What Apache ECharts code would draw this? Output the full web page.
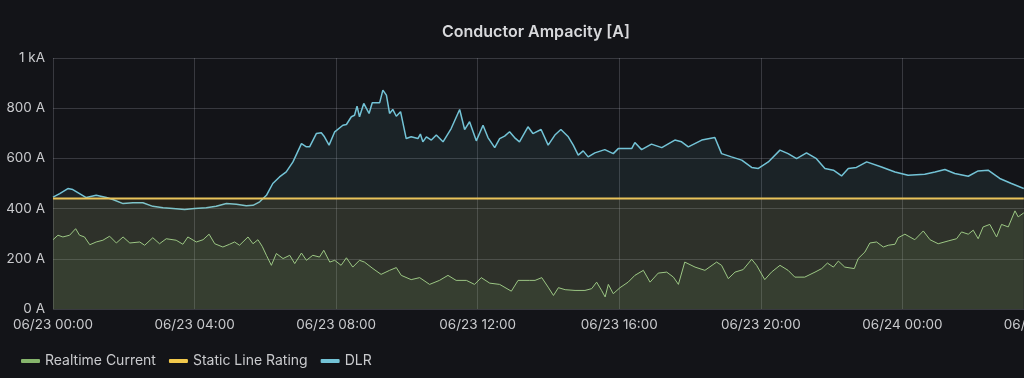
<!DOCTYPE html>
<html>
<head>
    <meta charset="UTF-8">
    <title>Conductor Ampacity [A]</title>
    <script src="https://cdn.jsdelivr.net/npm/echarts@6/dist/echarts.min.js"></script>
    <style>
        html, body { margin: 0; padding: 0; background: #131418; }
        #main { width: 1024px; height: 378px; }
    </style>
</head>
<body>
    <div id="main"></div>
    <script type="text/javascript">
        // x values are hours after 06/23 00:00
        var xTickLabels = ['06/23 00:00', '06/23 04:00', '06/23 08:00', '06/23 12:00', '06/23 16:00', '06/23 20:00', '06/24 00:00', '06/24 04:00'];
        var yTickLabels = ['0 A', '200 A', '400 A', '600 A', '800 A', '1 kA'];
        var seriesNames = ['Realtime Current', 'Static Line Rating', 'DLR'];

        var currentTimes = [0, 0.14, 0.28, 0.47, 0.64, 0.75, 0.89, 1.04, 1.22, 1.41, 1.60, 1.79, 1.98, 2.17, 2.45, 2.59, 2.82, 3.01, 3.20, 3.48, 3.67, 3.81, 4.05, 4.24, 4.41, 4.57, 4.80, 4.99, 5.13, 5.27, 5.51, 5.65, 5.79, 5.91, 6.03, 6.17, 6.31, 6.50, 6.69, 6.83, 7.02, 7.16, 7.34, 7.53, 7.65, 7.82, 7.96, 8.14, 8.29, 8.47, 8.66, 8.80, 9.04, 9.27, 9.51, 9.70, 9.84, 10.12, 10.36, 10.64, 10.92, 11.16, 11.39, 11.68, 11.91, 12.10, 12.34, 12.62, 12.95, 13.14, 13.47,
            13.62, 13.81, 13.99, 14.14, 14.28, 14.47, 14.75, 15.03, 15.22, 15.36, 15.50, 15.60, 15.69, 15.83, 16.02, 16.25, 16.44, 16.68, 16.87, 17.10, 17.34, 17.53, 17.67, 17.85, 18.14, 18.42, 18.75, 18.89, 19.08, 19.27, 19.50, 19.74, 19.88, 20.11, 20.30, 20.54, 20.77, 20.96, 21.24, 21.53, 21.72, 21.88, 22.05, 22.19, 22.37, 22.64, 22.75, 22.94, 23.08, 23.27, 23.46, 23.60, 23.79, 23.88, 24.07, 24.35, 24.59, 24.78, 25.01, 25.29, 25.53, 25.67, 25.86, 26.00, 26.14, 26.28, 26.47, 26.66, 26.80, 26.99, 27.18, 27.27, 27.43];
        var currentValues = [276, 294, 287, 294, 320, 294, 287, 256, 267, 274, 290, 263, 287, 263, 267, 254, 284, 260, 280, 274, 258, 287, 267, 276, 298, 260, 247, 258, 267, 254, 287, 260, 276, 250, 214, 174, 221, 201, 214, 181, 223, 194, 214, 207, 234, 187, 194, 174, 204, 167, 194, 187, 161, 138, 154, 165, 134, 117, 125, 98, 114, 134, 114, 114, 98, 125, 103, 98, 71, 114, 114,
            114, 125, 87, 54, 85, 77, 74, 74, 81, 107, 74, 48, 98, 61, 85, 107, 134, 154, 107, 143, 147, 127, 98, 187, 167, 154, 187, 174, 121, 147, 157, 198, 174, 117, 147, 174, 154, 127, 127, 147, 161, 183, 167, 191, 167, 161, 201, 227, 263, 267, 247, 254, 258, 284, 298, 276, 311, 276, 260, 271, 280, 307, 298, 314, 280, 327, 337, 287, 337, 327, 391, 367, 383];

        var staticTimes = [0, 27.43];
        var staticValues = [440, 440];

        var dlrTimes = [0, 0.19, 0.42, 0.56, 0.75, 0.94, 1.22, 1.51, 1.69, 1.98, 2.26, 2.54, 2.82, 3.11, 3.39, 3.72, 4.00, 4.33, 4.61, 4.90, 5.18, 5.46, 5.65, 5.84, 6.03, 6.21, 6.40, 6.59, 6.78, 7.02, 7.16, 7.25, 7.44, 7.58, 7.67, 7.80, 7.96, 8.19, 8.29, 8.43, 8.52, 8.59, 8.66, 8.78, 8.93, 9.02, 9.23, 9.32, 9.42, 9.51, 9.60, 9.70, 9.82, 9.98, 10.12, 10.31, 10.38, 10.45, 10.55, 10.69, 10.83, 11.02, 11.25, 11.49, 11.63, 11.77, 11.96, 12.15, 12.29, 12.48, 12.62, 12.76, 12.90, 13.04, 13.18, 13.42, 13.56,
            13.79, 13.99, 14.18, 14.35, 14.56, 14.70, 14.84, 14.98, 15.12, 15.31, 15.59, 15.83, 15.97, 16.35, 16.44, 16.63, 16.91, 17.20, 17.57, 17.76, 17.95, 18.33, 18.70, 18.89, 19.17, 19.46, 19.74, 19.93, 20.21, 20.54, 20.77, 21.01, 21.29, 21.57, 21.81, 22.05, 22.28, 22.47, 22.70, 22.99, 23.41, 23.79, 24.16, 24.63, 24.92, 25.20, 25.48, 25.86, 26.14, 26.42, 26.75, 27.08, 27.43];
        var dlrValues = [446, 460, 480, 476, 460, 444, 453, 444, 436, 420, 423, 423, 409, 403, 400, 396, 400, 403, 409, 420, 417, 411, 413, 427, 453, 500, 526, 546, 586, 659, 646, 646, 699, 702, 686, 653, 706, 732, 735, 766, 772, 808, 766, 819, 779, 822, 822, 872, 852, 779, 795, 768, 786, 679, 686, 679, 697, 666, 686, 673, 693, 666, 719, 795, 715, 746, 670, 732, 683, 643, 679, 689, 706, 683, 666, 726, 699,
            715, 653, 693, 715, 686, 653, 613, 630, 606, 622, 635, 619, 639, 639, 663, 635, 657, 643, 673, 666, 646, 673, 683, 619, 606, 593, 564, 560, 586, 633, 619, 599, 622, 599, 560, 553, 530, 560, 564, 586, 566, 546, 533, 537, 546, 556, 540, 529, 550, 553, 520, 500, 480];

        function pairs(xs, ys) {
            var out = [];
            for (var i = 0; i < xs.length; i++) {
                out.push([xs[i], ys[i]]);
            }
            return out;
        }

        var textColor = '#c9cacd';
        var gridColor = 'rgba(204,204,220,0.2)';

        var myChart = echarts.init(document.getElementById('main'));
        myChart.setOption({
            backgroundColor: '#131418',
            animation: false,
            title: {
                text: 'Conductor Ampacity [A]',
                left: 437,
                top: 19,
                textStyle: { color: '#d8d9dc', fontFamily: 'Inter', fontSize: 16, fontWeight: 600 }
            },
            legend: {
                left: 16,
                top: 349,
                icon: 'roundRect',
                itemWidth: 19,
                itemHeight: 4,
                itemGap: 13,
                textStyle: { color: textColor, fontFamily: 'Inter', fontSize: 14 },
                data: seriesNames
            },
            // the last tick (06/24 04:00) sits past the right edge, like the original
            grid: { left: 53, right: -20, top: 58, bottom: 69, outerBoundsMode: 'none', containLabel: false },
            xAxis: {
                type: 'value',
                min: 0,
                max: 28,
                interval: 4,
                axisLine: { show: false },
                axisTick: { show: false },
                axisLabel: {
                    color: textColor,
                    fontFamily: 'Inter',
                    fontSize: 13.5,
                    margin: 9,
                    showMaxLabel: true,
                    formatter: function (v) { return xTickLabels[Math.round(v / 4)]; }
                },
                splitLine: { lineStyle: { color: gridColor, width: 1 } }
            },
            yAxis: {
                type: 'value',
                min: 0,
                max: 1000,
                interval: 200,
                axisLine: { show: false },
                axisTick: { show: false },
                axisLabel: {
                    color: textColor,
                    fontFamily: 'Inter',
                    fontSize: 13.5,
                    margin: 8,
                    formatter: function (v) { return yTickLabels[Math.round(v / 200)]; }
                },
                splitLine: { lineStyle: { color: gridColor, width: 1 } }
            },
            series: [{
                name: seriesNames[2],
                type: 'line',
                symbol: 'none',
                color: '#73c3d6',
                lineStyle: { width: 1.5, color: '#73c3d6' },
                areaStyle: { color: 'rgba(115,195,214,0.12)' },
                data: pairs(dlrTimes, dlrValues),
                z: 3
            }, {
                name: seriesNames[1],
                type: 'line',
                symbol: 'none',
                color: '#f2c94c',
                lineStyle: { width: 2, color: '#e9c35a' },
                areaStyle: { color: 'rgba(242,201,76,0.13)' },
                data: pairs(staticTimes, staticValues),
                z: 4
            }, {
                name: seriesNames[0],
                type: 'line',
                symbol: 'none',
                color: '#86b56c',
                lineStyle: { width: 1, color: '#9cc784' },
                areaStyle: { color: 'rgba(134,181,108,0.14)' },
                data: pairs(currentTimes, currentValues),
                z: 5
            }]
        });
    </script>
</body>
</html>
